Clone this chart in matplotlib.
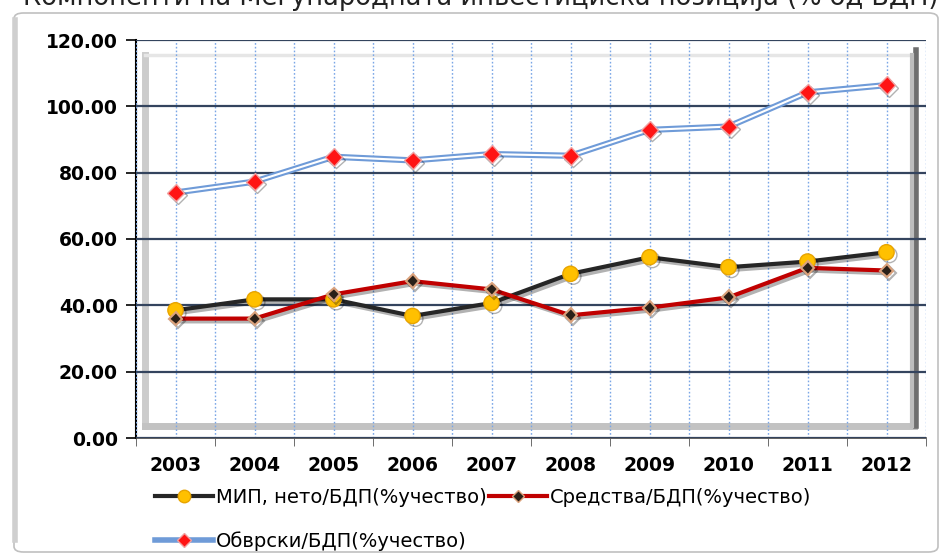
import matplotlib.pyplot as plt
import matplotlib.patheffects as pe
from matplotlib.patches import FancyBboxPatch
from matplotlib.lines import Line2D

# podatoci
godini = ['2003', '2004', '2005', '2006', '2007', '2008', '2009', '2010', '2011', '2012']
mip = [38.5, 41.8, 41.8, 36.8, 40.7, 49.5, 54.5, 51.5, 53.2, 56.0]
sredstva = [36.0, 36.0, 43.3, 47.3, 44.8, 37.0, 39.3, 42.4, 51.3, 50.5]
obvrski = [74.0, 77.3, 84.8, 83.7, 85.6, 85.1, 92.9, 93.9, 104.2, 106.4]
yticks = [0, 20, 40, 60, 80, 100, 120]

naslov = 'Компоненти на Меѓународната инвестициска позиција (% од БДП)'
leg_mip = 'МИП, нето/БДП(%учество)'
leg_sred = 'Средства/БДП(%учество)'
leg_obv = 'Обврски/БДП(%учество)'

fig = plt.figure(figsize=(9.47, 5.6), dpi=100)

# naslov (isecen na vrvot)
fig.text(481 / 947, 1 - 5 / 560, naslov, ha='center', va='baseline', fontsize=18.5, color='#222222')

# nadvoresna ramka
ramka = FancyBboxPatch((14 / 947, 8 / 560), 924 / 947, 539 / 560,
                       boxstyle='round,pad=0,rounding_size=0.01',
                       transform=fig.transFigure, facecolor='white',
                       edgecolor='#c0c0c0', linewidth=1.2, zorder=-2)
fig.patches.append(ramka)
fig.add_artist(Line2D([15 / 947, 15 / 947], [20 / 560, 540 / 560], color='#cfcfcf', lw=4,
                      transform=fig.transFigure, zorder=-1))

ax = fig.add_axes([136 / 947, 1 - 438 / 560, 790 / 947, 398 / 560])
ax.set_facecolor('none')
x = list(range(len(godini)))

# 3D rab na oblasta
ax.plot([0.012, 0.012], [0.03, 0.962], color='#cccccc', lw=5, transform=ax.transAxes, zorder=1)
ax.plot([0.012, 0.985], [0.03, 0.03], color='#c2c2c2', lw=5, transform=ax.transAxes, zorder=1)
ax.plot([0.012, 0.985], [0.962, 0.962], color='#e6e6e6', lw=2.5, transform=ax.transAxes, zorder=1)
ax.plot([0.987, 0.987], [0.03, 0.975], color='#6e6e6e', lw=4, transform=ax.transAxes, zorder=1)
ax.plot([0.982, 0.982], [0.03, 0.962], color='#bdbdbd', lw=3, transform=ax.transAxes, zorder=1)

senka = [pe.SimpleLineShadow(offset=(2, -2), alpha=0.3, shadow_color='black'), pe.Normal()]

# Obvrski - dvojna sina linija
ax.plot(x, obvrski, color='#6f9bd8', lw=4.5, zorder=3, solid_joinstyle='round')
ax.plot(x, obvrski, color='white', lw=1.5, zorder=3.1)
ax.plot(x, obvrski, linestyle='', marker='D', ms=9, markerfacecolor='#ff1414',
        markeredgecolor='#f0a0a0', markeredgewidth=1, zorder=4, path_effects=senka)

ax.plot(x, mip, color='#262626', lw=3, zorder=3, path_effects=senka)
ax.plot(x, mip, linestyle='', marker='o', ms=11, markerfacecolor='#ffc000',
        markeredgecolor='#e8a400', markeredgewidth=1, zorder=4, path_effects=senka)

ax.plot(x, sredstva, color='#c00000', lw=3, zorder=3.2, path_effects=senka)
ax.plot(x, sredstva, linestyle='', marker='D', ms=7, markerfacecolor='#2a2018',
        markeredgecolor='#dba27c', markeredgewidth=1.5, zorder=4.1, path_effects=senka)

ax.set_xlim(-0.5, len(godini) - 0.5)
ax.set_ylim(0, 120)
ax.set_yticks(yticks)
ax.set_yticklabels(['%.2f' % v for v in yticks], fontsize=13.5, fontweight='heavy')
ax.set_xticks(x)
ax.set_xticklabels(godini, fontsize=13.5, fontweight='heavy')
ax.set_xticks([i - 0.5 for i in range(len(godini) + 1)], minor=True)
ax.tick_params(axis='x', which='major', length=0, pad=13)
ax.tick_params(axis='x', which='minor', length=6, color='#555555')
ax.tick_params(axis='y', length=7, width=1.2, pad=6)

# mreza
ax.grid(axis='y', color='#34445e', lw=1.6, zorder=2)
ax.grid(axis='x', which='both', color='#7aa6e6', lw=1, linestyle=(0, (1.2, 1.5)), zorder=2)
ax.set_axisbelow(False)
for a in ['top', 'right']:
    ax.spines[a].set_visible(False)
ax.spines['left'].set_linewidth(1.5)
ax.spines['bottom'].set_linewidth(1.2)
ax.spines['bottom'].set_color('#444444')

# legenda
h_mip = Line2D([], [], color='#262626', lw=3, marker='o', ms=9, markerfacecolor='#ffc000',
               markeredgecolor='#e8a400')
h_sred = Line2D([], [], color='#c00000', lw=3, marker='D', ms=6, markerfacecolor='#2a2018',
                markeredgecolor='#dba27c')
h_obv = Line2D([], [], color='#6f9bd8', lw=4, marker='D', ms=7, markerfacecolor='#ff1414',
               markeredgecolor='#f0a0a0')
fig.legend([h_mip, h_obv, h_sred], [leg_mip, leg_obv, leg_sred], ncol=2, frameon=False,
           loc='upper left', bbox_to_anchor=(155 / 947, 1 - 488 / 560),
           fontsize=14, handlelength=3.0, handletextpad=0.15, columnspacing=0.1,
           labelspacing=1.25, borderaxespad=0, borderpad=0)

fig.savefig('out.png', dpi=100)
